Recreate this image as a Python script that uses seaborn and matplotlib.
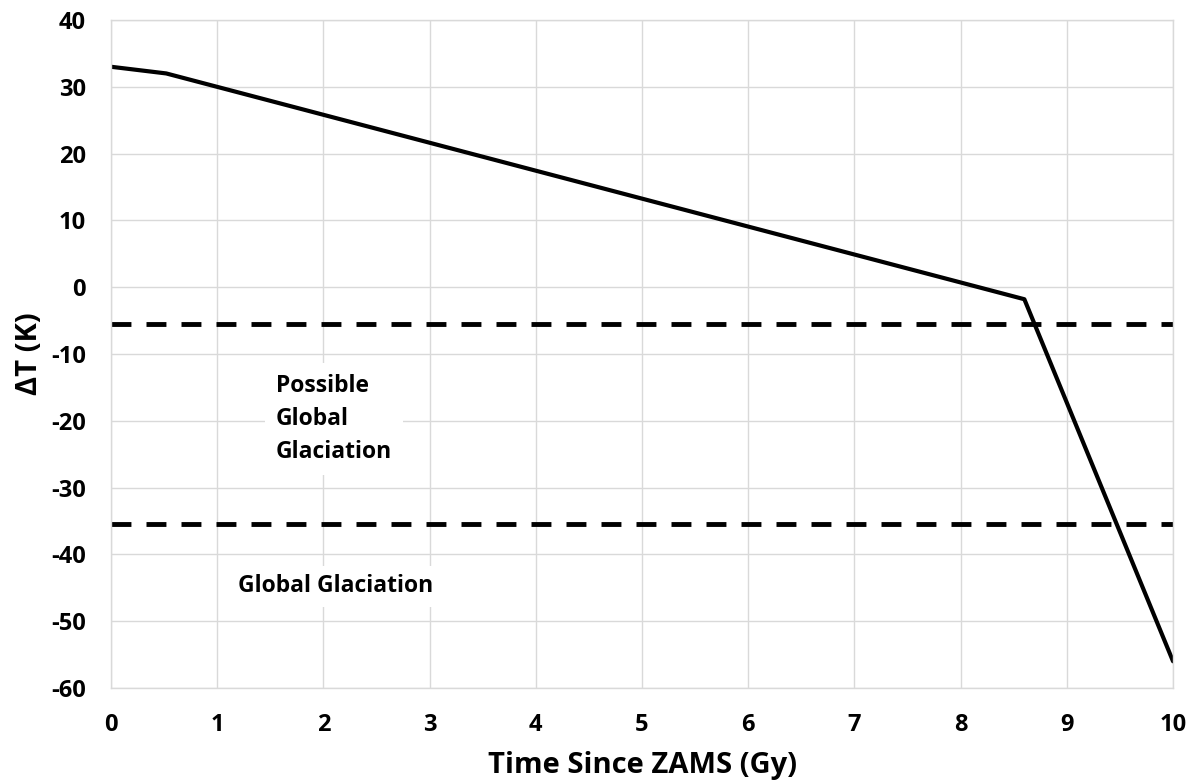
import matplotlib
matplotlib.use("Agg")
import matplotlib.pyplot as plt
import seaborn as sns
import pandas as pd

# Temperature change vs time since ZAMS
time_gy = [0.0, 0.52, 8.6, 10.0]
delta_t = [33.0, 32.0, -1.8, -56.0]

# glaciation thresholds
threshold_possible = -5.5
threshold_global = -35.5

x_ticks = list(range(0, 11))
y_ticks = list(range(-60, 41, 10))

sns.set_theme(style="white")
plt.rcParams['font.family'] = ['Open Sans', 'DejaVu Sans']
plt.rcParams['font.weight'] = 'bold'
plt.rcParams['axes.unicode_minus'] = False
for key in ['text.color', 'axes.labelcolor', 'xtick.color', 'ytick.color']:
    plt.rcParams[key] = 'black'

df = pd.DataFrame({"Time": time_gy, "dT": delta_t})

fig = plt.figure(figsize=(11.96, 7.84), dpi=100)
ax = fig.add_axes([0.0928, 0.1224, 0.888, 0.8521])

# gridlines
ax.set_axisbelow(True)
ax.grid(True, color="#d9d9d9", linewidth=1)

sns.lineplot(data=df, x="Time", y="dT", color="black", linewidth=3.0, ax=ax)
ax.axhline(threshold_possible, color="black", linewidth=3.5, dashes=(4.1, 3.1))
ax.axhline(threshold_global, color="black", linewidth=3.5, dashes=(4.1, 3.1))

ax.text(1.55, -19.8, "Possible\nGlobal\nGlaciation", fontsize=16.5, fontweight="bold",
        va="center", ha="left", linespacing=1.5,
        bbox=dict(facecolor="white", edgecolor="none", pad=8))
ax.text(1.2, -44.8, "Global Glaciation", fontsize=16.5, fontweight="bold",
        va="center", ha="left",
        bbox=dict(facecolor="white", edgecolor="none", pad=6))

ax.set_xlim(0, 10)
ax.set_ylim(-60, 40)
ax.set_xticks(x_ticks)
ax.set_yticks(y_ticks)
ax.tick_params(axis="both", labelsize=17, length=0, pad=18)
for lbl in ax.get_xticklabels() + ax.get_yticklabels():
    lbl.set_fontweight("bold")

ax.set_xlabel("Time Since ZAMS (Gy)", fontsize=21, fontweight="bold", labelpad=10)
ax.set_ylabel("ΔT (K)", fontsize=21, fontweight="bold", labelpad=5)

for s in ax.spines.values():
    s.set_color("#d9d9d9")
    s.set_linewidth(1)

fig.savefig("out.png", dpi=100)
